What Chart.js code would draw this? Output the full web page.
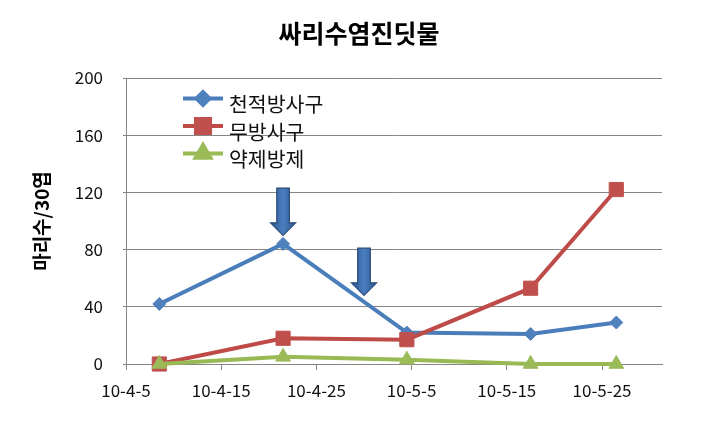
<!DOCTYPE html>
<html>
<head>
<meta charset="utf-8">
<script src="https://cdn.jsdelivr.net/npm/chart.js@4/dist/chart.umd.min.js"></script>
<style>
  html, body { margin: 0; padding: 0; background: #fff; }
  #wrap { width: 718px; height: 428px; }
</style>
</head>
<body>
<div id="wrap"><canvas id="grafico"></canvas></div>
<script>
// 싸리수염진딧물 - 조사일별 밀도
const chartTitle = '싸리수염진딧물';
const yTitle = '마리수/30엽';
const seriesNames = ['천적방사구', '무방사구', '약제방제'];
const sampleDates = ['2010-04-08', '2010-04-21', '2010-05-04', '2010-05-17', '2010-05-26'];
const biological = [42, 84, 22, 21, 29];
const untreated = [0, 18, 17, 53, 122];
const chemical = [0, 5, 3, 0, 0];
const tickDates = ['2010-04-05', '2010-04-15', '2010-04-25', '2010-05-05', '2010-05-15', '2010-05-25'];
const tickLabels = ['10-4-5', '10-4-15', '10-4-25', '10-5-5', '10-5-15', '10-5-25'];
const yTicks = [0, 40, 80, 120, 160, 200];
// 천적 방사 표시 화살표 (일수, 위쪽 값, 끝 값)
const arrowDays = [16.5, 25];
const arrowTop = [123, 81];
const arrowTip = [90, 48];

const FONT = "'Noto Sans CJK KR', 'Noto Sans', sans-serif";
const DAY0 = Date.parse(tickDates[0]);
const dia = s => (Date.parse(s) - DAY0) / 86400000;
const xs = sampleDates.map(d => dia(d) + 0.5);
const pontos = vals => vals.map((v, i) => ({ x: xs[i], y: v }));

const cores = [
  { line: '#4A7EBB', fill: '#4F81BD', style: 'rectRot', r: 6.5 },
  { line: '#BE4B48', fill: '#C0504D', style: 'rect', r: 10 },
  { line: '#98B954', fill: '#9BBB59', style: 'triangle', r: 8.5 }
];
const valores = [biological, untreated, chemical];

// Setas
const setas = {
  id: 'setas',
  afterDatasetsDraw(chart) {
    const { ctx, scales: { x, y } } = chart;
    ctx.save();
    arrowDays.forEach((d, i) => {
      const cx = x.getPixelForValue(d);
      const top = y.getPixelForValue(arrowTop[i]);
      const tip = y.getPixelForValue(arrowTip[i]);
      const base = tip - 12.5;
      const g = ctx.createLinearGradient(cx - 12, 0, cx + 12, 0);
      g.addColorStop(0, '#2C5791');
      g.addColorStop(0.5, '#4A7EC0');
      g.addColorStop(1, '#2C5791');
      ctx.beginPath();
      ctx.moveTo(cx - 6.3, top);
      ctx.lineTo(cx + 6.3, top);
      ctx.lineTo(cx + 6.3, base);
      ctx.lineTo(cx + 12.5, base);
      ctx.lineTo(cx, tip);
      ctx.lineTo(cx - 12.5, base);
      ctx.lineTo(cx - 6.3, base);
      ctx.closePath();
      ctx.fillStyle = g;
      ctx.fill();
      ctx.strokeStyle = '#2A4A78';
      ctx.lineWidth = 1.2;
      ctx.stroke();
    });
    ctx.restore();
  }
};

// Legenda dentro do gráfico
const legenda = {
  id: 'legenda',
  afterDraw(chart) {
    const ctx = chart.ctx;
    ctx.save();
    seriesNames.forEach((nome, i) => {
      const ly = 98.5 + i * 27.5;
      ctx.strokeStyle = cores[i].line;
      ctx.lineWidth = 4;
      ctx.beginPath();
      ctx.moveTo(183, ly);
      ctx.lineTo(223, ly);
      ctx.stroke();
      ctx.fillStyle = cores[i].fill;
      ctx.strokeStyle = cores[i].fill;
      Chart.helpers.drawPoint(ctx, { pointStyle: cores[i].style, radius: cores[i].r, rotation: 0, borderWidth: 1 }, 203, ly);
      ctx.fillStyle = '#111';
      ctx.font = '20.5px ' + FONT;
      ctx.textBaseline = 'middle';
      ctx.textAlign = 'left';
      ctx.fillText(nome, 229, ly + 6);
    });
    ctx.restore();
  }
};

const datasets = seriesNames.map((nome, i) => ({
  label: nome,
  data: pontos(valores[i]),
  borderColor: cores[i].line,
  borderWidth: 4,
  pointStyle: cores[i].style,
  pointRadius: cores[i].r,
  pointBackgroundColor: cores[i].fill,
  pointBorderColor: cores[i].fill,
  pointBorderWidth: 1,
  tension: 0,
  clip: false,
  order: 2 - i
}));

new Chart(document.getElementById('grafico'), {
  type: 'line',
  data: { datasets },
  options: {
    responsive: true,
    maintainAspectRatio: false,
    animation: false,
    layout: { padding: 0 },
    plugins: {
      legend: { display: false },
      tooltip: { enabled: false },
      title: {
        display: true,
        text: chartTitle,
        color: '#000',
        font: { family: FONT, size: 25, weight: 'bold' },
        padding: { top: 18, bottom: 30 }
      }
    },
    scales: {
      x: {
        type: 'linear',
        min: 0,
        max: 56.3,
        afterFit: s => { s.height = 64; },
        afterBuildTicks: s => { s.ticks = tickDates.map(d => ({ value: dia(d) })); },
        grid: { drawOnChartArea: false, drawTicks: true, tickLength: 6, color: '#868686' },
        border: { color: '#868686', width: 1 },
        ticks: {
          autoSkip: false,
          maxRotation: 0,
          padding: 10,
          color: '#111',
          font: { family: FONT, size: 17 },
          callback: (v, i) => tickLabels[i]
        }
      },
      y: {
        min: 0,
        max: 200,
        afterFit: s => { s.width = 126; },
        afterBuildTicks: s => { s.ticks = yTicks.map(v => ({ value: v })); },
        grid: { color: '#868686', tickLength: 3 },
        border: { color: '#868686', width: 1 },
        ticks: {
          padding: 20,
          color: '#111',
          font: { family: FONT, size: 17 }
        },
        title: {
          display: true,
          text: yTitle,
          color: '#000',
          font: { family: FONT, size: 19, weight: 'bold' },
          padding: { top: 30, bottom: 4 }
        }
      },
      espaco: {
        position: 'right',
        min: 0,
        max: 200,
        afterFit: s => { s.width = 56; },
        grid: { display: false },
        border: { display: false },
        ticks: { display: false }
      }
    }
  },
  plugins: [setas, legenda]
});
</script>
</body>
</html>
